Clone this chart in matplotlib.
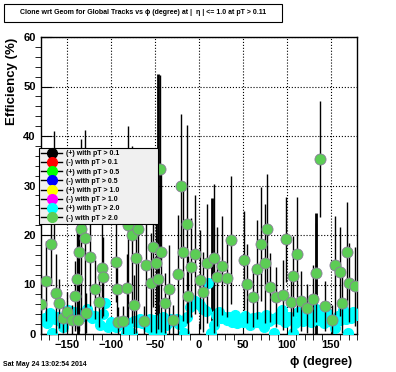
import numpy as np
import matplotlib
matplotlib.use("Agg")
import matplotlib.pyplot as plt
from matplotlib.lines import Line2D
from matplotlib.patches import Rectangle

plt.rcParams['font.family'] = ['Liberation Sans', 'DejaVu Sans']
plt.rcParams['font.weight'] = 'bold'

# (-) with pT > 2.0 : phi, efficiency, error
green_phi = [-179, -173.5, -168.5, -165, -162, -159, -154, -150, -144, -140.5,
             -139, -138, -136, -134, -129, -128, -124, -118.5, -113.6, -110,
             -109, -94, -93, -92, -86, -81.5, -80.7, -76, -74, -72,
             -69, -63, -60.6, -55, -52, -49, -47, -44.3, -43.5, -38.6,
             -34, -29, -24, -20.5, -18, -14, -12, -9, -4, 1,
             5, 9, 17, 21, 26, 31.5, 36, 51.5, 54, 61.7,
             65.5, 71, 75, 77, 80.7, 88, 96, 99, 104.5, 106.5,
             111, 116, 122.4, 130, 132.6, 137.5, 143, 151.5, 155, 160,
             162, 168, 170.5, 177]
green_eff = [6.0, 10.7, 18.1, 30.0, 8.2, 6.2, 3.2, 4.5, 2.8, 7.7,
             11.1, 2.8, 16.6, 21.3, 19.3, 4.2, 15.6, 9.0, 6.5, 13.3,
             11.6, 14.5, 9.0, 2.5, 2.6, 9.2, 22.0, 20.1, 5.9, 15.3,
             21.3, 2.6, 13.9, 10.4, 17.5, 14.3, 11.1, 33.3, 16.5, 6.3,
             9.0, 2.8, 12.1, 29.9, 16.6, 22.2, 7.7, 13.5, 16.1, 11.0,
             8.5, 14.3, 15.3, 11.6, 13.8, 11.4, 19.0, 14.9, 10.2, 7.5,
             13.1, 18.2, 14.3, 21.3, 9.4, 7.5, 7.9, 19.1, 6.5, 11.7,
             16.1, 6.7, 5.2, 7.0, 12.4, 35.3, 5.7, 2.8, 13.9, 12.6,
             6.2, 16.6, 10.4, 9.6]
green_err = [6, 8, 8, 11, 8, 5, 3, 4, 3, 7,
             10, 3, 16, 18, 22, 4, 10, 6, 5, 10,
             8, 8, 6, 3, 3, 7, 20, 17.8, 6, 15,
             15, 3, 12, 10, 12, 14, 10, 19, 16, 6,
             9, 3, 12, 14.5, 14, 20, 8, 10, 12, 10,
             8, 12, 15, 10, 10, 8, 13, 10, 8, 6,
             10, 11.5, 12, 11, 7, 6, 7, 8.6, 6, 8,
             11.6, 6, 5, 7, 10, 11.7, 5, 3, 10, 9,
             6, 10, 8, 8]

# (+) with pT > 2.0 : 120 bins of 3 degrees
cyan_eff = [2.8, 3.2, 2.2, 4.2, 0.2, 3.0, 3.5, 2.6, 1.5, 3.8,
            4.8, 3.0, 4.5, 2.8, 3.8, 4.2, 3.6, 5.0, 4.0, 3.2,
            3.7, 3.2, 1.8, 4.0, 6.2, 1.5, 2.5, 2.0, 1.5, 2.4,
            2.0, 2.5, 0.3, 2.2, 0.2, 2.6, 2.4, 3.0, 2.2, 2.5,
            1.5, 3.0, 0.6, 2.8, 2.2, 0.2, 3.4, 1.8, 2.5, 3.0,
            2.6, 3.0, 2.0, 2.4, 0.2, 3.5, 5.5, 6.9, 6.7, 6.2,
            5.8, 5.0, 4.6, 10.3, 0.2, 1.8, 3.8, 4.5, 3.2, 3.5,
            2.8, 3.4, 2.5, 3.8, 2.2, 3.0, 2.4, 3.6, 2.8, 1.8,
            3.2, 2.5, 3.5, 2.2, 1.5, 3.8, 2.6, 3.0, 0.3, 3.4,
            3.0, 4.8, 2.5, 3.4, 3.4, 0.2, 2.2, 4.5, 3.0, 2.6,
            3.2, 4.0, 2.4, 3.5, 5.0, 2.8, 3.6, 2.2, 4.2, 3.0,
            2.5, 1.3, 3.6, 2.8, 4.8, 3.0, 0.2, 3.2, 4.5, 3.8]
cyan_phi = np.arange(-178.5, 180, 3)

# error bars of the hidden series (drawn from zero)
extra_phi = [-137, -47, 15, 133]
extra_top = [25, 52.5, 27.5, 24.4]

legend_labels = ['(+) with pT > 0.1', '(-) with pT > 0.1', '(+) with pT > 0.5',
                 '(-) with pT > 0.5', '(+) with pT > 1.0', '(-) with pT > 1.0',
                 '(+) with pT > 2.0', '(-) with pT > 2.0']
legend_colors = ['black', 'red', '#00ff00', 'blue', 'yellow', 'magenta', 'cyan', '#5ccd55']

W, H = 396, 372
fig = plt.figure(figsize=(W / 100, H / 100), dpi=100)
ax = fig.add_axes([40.6 / W, 1 - 334 / H, 316.8 / W, 297 / H])

ax.vlines(extra_phi, 0, extra_top, color='black', lw=2, zorder=2)
ax.plot(cyan_phi, cyan_eff, 'o', color='cyan', ms=7, mec='cyan', zorder=3)
ax.errorbar(green_phi, green_eff, yerr=green_err, fmt='o', color='#5ccd55', mec='#8a7f9a',
            mew=0.6, ms=8, ecolor='black', elinewidth=1, capsize=0, zorder=4)

ax.set_xlim(-180, 180)
ax.set_ylim(0, 60)
ax.set_xticks([-150, -100, -50, 0, 50, 100, 150])
ax.set_xticks(np.arange(-180, 181, 10), minor=True)
ax.set_yticks(np.arange(0, 61, 10))
ax.set_yticks(np.arange(0, 61, 2), minor=True)
ax.tick_params(direction='in', labelsize=8, width=0.8)
ax.tick_params(which='major', length=8)
ax.tick_params(which='minor', length=4)
ax.tick_params(axis='x', pad=4)
ax.grid(True, which='major', color='black', ls=':', lw=0.8)
ax.set_axisbelow(True)
for s in ax.spines.values():
    s.set_linewidth(1)

handles = [Line2D([], [], color='black', lw=1, marker='o', ms=7, mfc=c, mec=c) for c in legend_colors]
leg = fig.legend(handles, legend_labels, loc='upper left', mode='expand',
                 bbox_to_anchor=(39 / W, 1 - 223 / H, 119 / W, 75 / H), borderaxespad=0,
                 fontsize=5, frameon=True, fancybox=False, framealpha=1,
                 facecolor='#f0f0f0', edgecolor='black', labelspacing=0.32,
                 handlelength=3.0, handletextpad=0.6, borderpad=0.3)
leg.get_frame().set_linewidth(0.8)

# title box
fig.patches.append(Rectangle((4 / W, 1 - 22 / H), 278 / W, 18 / H, transform=fig.transFigure,
                             facecolor='white', edgecolor='black', lw=0.8))
fig.text(143 / W, 1 - 13 / H, 'Clone wrt Geom for Global Tracks vs \u03d5 (degree) at |  \u03b7 | <= 1.0 at pT > 0.11',
         ha='center', va='center', fontsize=5)

fig.text(12 / W, 1 - 38 / H, 'Efficiency (%)', rotation=90, ha='center', va='top', fontsize=9.5)
fig.text(352 / W, 1 - 362 / H, '\u03d5 (degree)', ha='right', va='center', fontsize=9)
fig.text(3 / W, 1 - 364 / H, 'Sat May 24 13:02:54 2014', ha='left', va='center', fontsize=5)

fig.savefig('out.png', dpi=100)
